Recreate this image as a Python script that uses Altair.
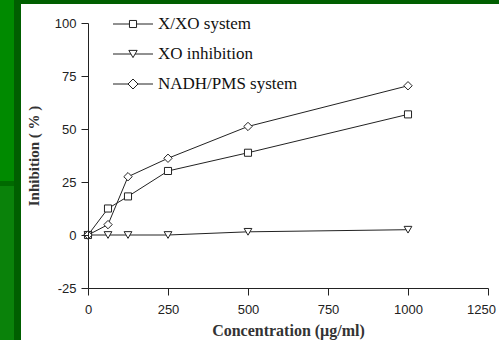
import altair as alt
import pandas as pd

series_names = ["X/XO system", "XO inhibition", "NADH/PMS system"]
concentration = [0, 62.5, 125, 250, 500, 1000]
xxo_values = [0, 12.5, 18.2, 30.2, 38.8, 56.9]
xo_values = [0, 0, 0, 0, 1.5, 2.5]
nadh_values = [0, 4.9, 27.5, 36.2, 51.2, 70.4]
shapes = ["square", "triangle-down", "diamond"]
marker_sizes = [50, 70, 100]
x_ticks = [0, 250, 500, 750, 1000, 1250]
y_ticks = [-25, 0, 25, 50, 75, 100]

rows = []
for name, vals in zip(series_names, [xxo_values, xo_values, nadh_values]):
    for c, v in zip(concentration, vals):
        rows.append({"series": name, "conc": c, "value": v})
df = pd.DataFrame(rows)
leg = pd.DataFrame({"series": series_names})

W, H = 400, 265
SERIF = "Liberation Serif"
SANS = "Liberation Sans"

# decorative green slide edges (left strip and top strip)
deco = pd.DataFrame({"k": [0]})
left_hi = alt.Chart(deco).mark_rect(color="#008a00").encode(
    x=alt.value(-88), x2=alt.value(-74), y=alt.value(-23), y2=alt.value(158))
left_mid = alt.Chart(deco).mark_rect(color="#006a00").encode(
    x=alt.value(-88), x2=alt.value(-74), y=alt.value(158), y2=alt.value(163))
left_lo = alt.Chart(deco).mark_rect(color="#0a820a").encode(
    x=alt.value(-88), x2=alt.value(-74), y=alt.value(163), y2=alt.value(317))
side_band = alt.Chart(deco).mark_rect(color="#005f00").encode(
    x=alt.value(-74), x2=alt.value(-67), y=alt.value(-23), y2=alt.value(317))
top_band = alt.Chart(deco).mark_rect(color="#005f00").encode(
    x=alt.value(-74), x2=alt.value(411), y=alt.value(-23), y2=alt.value(-19))

xs = alt.Scale(domain=[0, 1250], nice=False)
ys = alt.Scale(domain=[-25, 100], nice=False)
shape_scale = alt.Scale(domain=series_names, range=shapes)
size_scale = alt.Scale(domain=series_names, range=marker_sizes)

lines = alt.Chart(df).mark_line(color="#222222", strokeWidth=1).encode(
    x=alt.X("conc:Q", scale=xs,
            axis=alt.Axis(values=x_ticks, title="Concentration (\u00b5g/ml)",
                          labelExpr="'' + datum.value", labelFlush=False,
                          labelOverlap=False, zindex=1,
                          labelOffset={"condition": {"test": "datum.value == 1250",
                                                     "value": -7},
                                       "value": 0})),
    y=alt.Y("value:Q", scale=ys,
            axis=alt.Axis(values=y_ticks, title="Inhibition ( % )",
                          labelExpr="'' + datum.value", zindex=1)),
    detail="series:N",
)
points = alt.Chart(df).mark_point(filled=False, fill="white", fillOpacity=1,
                                  stroke="#222222", strokeWidth=1).encode(
    x=alt.X("conc:Q", scale=xs),
    y=alt.Y("value:Q", scale=ys),
    shape=alt.Shape("series:N", scale=shape_scale, legend=None),
    size=alt.Size("series:N", scale=size_scale, legend=None),
)

legend_layers = []
for i, name in enumerate(series_names):
    base = alt.Chart(leg).transform_filter(alt.datum.series == name)
    yv = alt.value(1 + 30 * i)
    legend_layers.append(base.mark_rule(color="#222222", strokeWidth=1).encode(
        y=yv, x=alt.value(25), x2=alt.value(65)))
    legend_layers.append(base.mark_point(filled=False, fill="white", fillOpacity=1,
                                         stroke="#222222", strokeWidth=1,
                                         shape=shapes[i], size=marker_sizes[i]).encode(
        y=yv, x=alt.value(45)))
    legend_layers.append(base.mark_text(align="left", baseline="middle", font=SERIF,
                                        fontSize=17, color="#111111").encode(
        y=yv, x=alt.value(70), text="series:N"))

chart = alt.layer(left_hi, left_mid, left_lo, side_band, top_band,
                  lines, points, *legend_layers).properties(
    width=W, height=H,
    background="white",
    padding={"left": 88, "top": 23, "right": 11, "bottom": 52},
    autosize=alt.AutoSizeParams(type="none"),
).configure_view(stroke=None).configure_axis(
    grid=False,
    domainColor="#222222",
    tickColor="#222222",
    tickSize=7,
    labelFont=SANS,
    labelFontSize=13,
    labelColor="#222222",
    titleFont=SERIF,
    titleFontWeight="bold",
    titleColor="#333333",
).configure_axisX(labelPadding=8, titlePadding=6, titleFontSize=16).configure_axisY(
    labelPadding=5, titlePadding=13, titleFontSize=15)

chart.save("out.html", embed_options={"renderer": "svg", "actions": False})
